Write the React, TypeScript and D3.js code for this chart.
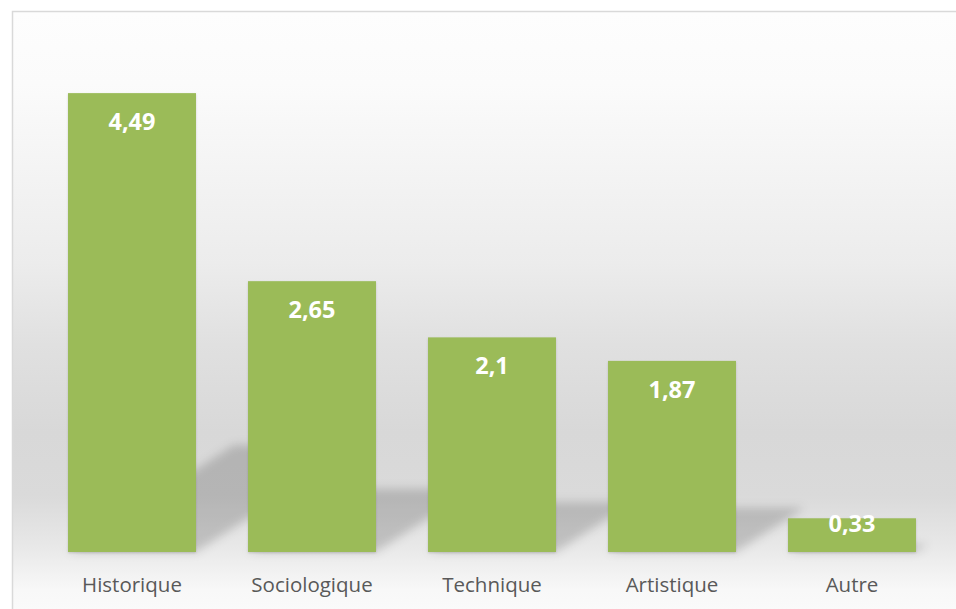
import React from "react";
import * as d3 from "d3";

const categories = ["Historique", "Sociologique", "Technique", "Artistique", "Autre"];
const values = [4.49, 2.65, 2.1, 1.87, 0.33];
const valueLabels = ["4,49", "2,65", "2,1", "1,87", "0,33"];
const yDomain = [0, 5];

const W = 956;
const H = 609;
const plot = { left: 42, right: 942, top: 41, bottom: 552 };
const barColor = "#9BBB59";
const shadowScale = 0.233;
const shadowSkew = 1.55;

export default function App() {
  const x = d3
    .scaleBand<string>()
    .domain(categories)
    .range([plot.left, plot.right])
    .paddingInner(0.289)
    .paddingOuter(0.1445);
  const y = d3.scaleLinear().domain(yDomain).range([plot.bottom, plot.top]);
  const bw = x.bandwidth();

  const shadowPath = (c: string, v: number) => {
    const x0 = x(c)!;
    const x1 = x0 + bw;
    const h = (y(0) - y(v)) * shadowScale;
    const dx = h * shadowSkew;
    const b = y(0);
    const p = d3.path();
    p.moveTo(x0, b);
    p.lineTo(x1, b);
    p.lineTo(x1 + dx, b - h);
    p.lineTo(x0 + dx, b - h);
    p.closePath();
    return p.toString();
  };

  return (
    <svg
      width={W}
      height={H}
      style={{ position: "absolute", left: 0, top: 0, display: "block" }}
      fontFamily="'Open Sans', 'Noto Sans', sans-serif"
    >
      <defs>
        <linearGradient id="bg" x1="0" y1="0" x2="0" y2="1">
          <stop offset="0" stopColor="#fdfdfd" />
          <stop offset="0.115" stopColor="#fbfbfb" />
          <stop offset="0.4" stopColor="#ececec" />
          <stop offset="0.53" stopColor="#e0e0e0" />
          <stop offset="0.67" stopColor="#d8d8d8" />
          <stop offset="0.77" stopColor="#dadada" />
          <stop offset="0.85" stopColor="#e8e8e8" />
          <stop offset="0.92" stopColor="#f8f8f8" />
          <stop offset="1" stopColor="#fdfdfd" />
        </linearGradient>
        <filter id="blur" x="-30%" y="-50%" width="160%" height="200%">
          <feGaussianBlur stdDeviation="5" />
        </filter>
        <filter id="barShadow" x="-10%" y="-10%" width="120%" height="120%">
          <feDropShadow dx="0" dy="1" stdDeviation="1" floodColor="#000" floodOpacity="0.15" />
        </filter>
      </defs>
      <rect x={0} y={0} width={W} height={H} fill="#ffffff" />
      <rect
        x={12.5}
        y={11.5}
        width={W + 20}
        height={H + 20}
        fill="url(#bg)"
        stroke="#d9d9d9"
        strokeWidth={1.5}
      />
      <g filter="url(#blur)">
        {categories.map((c, i) => (
          <path key={c} d={shadowPath(c, values[i])} fill="#000" fillOpacity={0.17} />
        ))}
      </g>
      <g>
        {categories.map((c, i) => (
          <rect
            key={c}
            x={x(c)!}
            y={y(values[i])}
            width={bw}
            height={y(0) - y(values[i])}
            fill={barColor}
            filter="url(#barShadow)"
          />
        ))}
      </g>
      <g>
        {categories.map((c, i) => {
          const top = y(values[i]);
          const hgt = y(0) - top;
          const baseline = hgt < 60 ? top + 14 : top + 37;
          return (
            <text
              key={c}
              x={x(c)! + bw / 2}
              y={baseline}
              textAnchor="middle"
              fill="#ffffff"
              fontWeight={700}
              fontSize={23.5}
            >
              {valueLabels[i]}
            </text>
          );
        })}
      </g>
      <g>
        {categories.map((c) => (
          <text
            key={c}
            x={x(c)! + bw / 2}
            y={592}
            textAnchor="middle"
            fill="#595959"
            fontSize={20.5}
          >
            {c}
          </text>
        ))}
      </g>
    </svg>
  );
}
